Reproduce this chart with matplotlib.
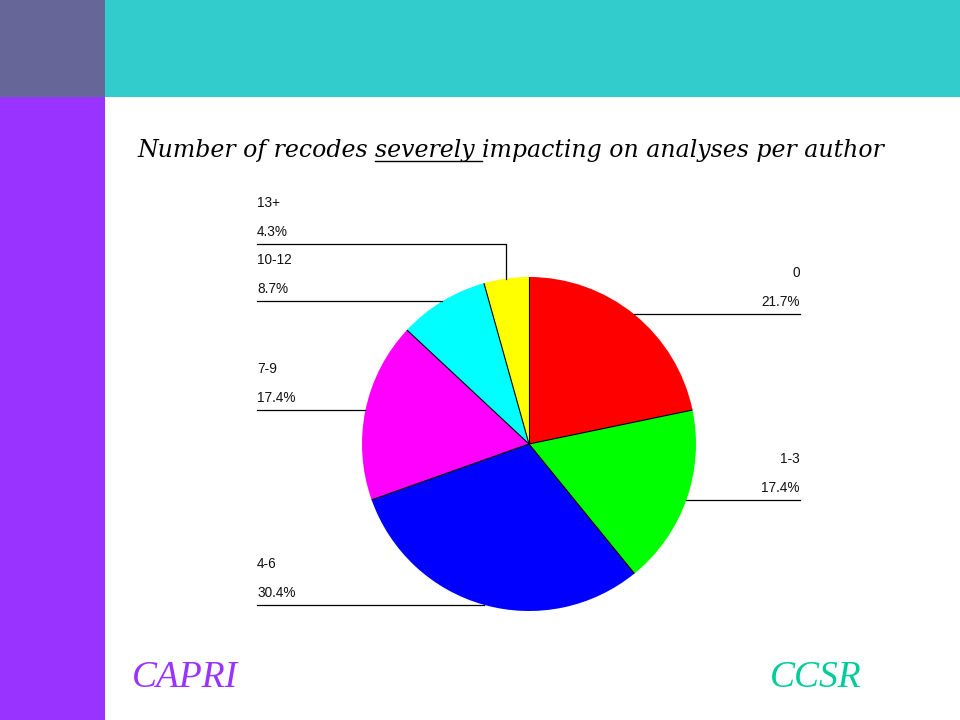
import numpy as np
import matplotlib
matplotlib.use('Agg')
import matplotlib.pyplot as plt
from matplotlib.patches import Rectangle

# ================= data =================
CATEGORIES = ['0', '1-3', '4-6', '7-9', '10-12', '13+']
COUNTS = [5, 4, 7, 4, 2, 1]   # authors per group (n = 23)
COLORS = ['#FF0000', '#00FF00', '#0000FF', '#FF00FF', '#00FFFF', '#FFFF00']

TITLE_PRE = 'Number of recodes '
TITLE_UL = 'severely '
TITLE_POST = 'impacting on analyses per author'

# ================= layout (pixels, y measured from top) =================
W, H = 960, 720
CX, CY, R = 529, 444, 167
LEFT_X, RIGHT_X = 257, 800
LABEL_FONT = ['Liberation Sans', 'DejaVu Sans']


def Y(py):
    return H - py


fig = plt.figure(figsize=(W / 100, H / 100), dpi=100)
ax = fig.add_axes([0, 0, 1, 1])
ax.set_xlim(0, W)
ax.set_ylim(0, H)
ax.set_aspect('equal')
ax.axis('off')

# slide frame
ax.add_patch(Rectangle((0, Y(97)), 105, 97, color='#666699', lw=0))
ax.add_patch(Rectangle((105, Y(97)), W - 105, 97, color='#33CCCC', lw=0))
ax.add_patch(Rectangle((0, 0), 105, H - 97, color='#9933FF', lw=0))

# pie
wedges, _ = ax.pie(COUNTS, colors=COLORS, startangle=90, counterclock=False,
                   center=(CX, Y(CY)), radius=R, frame=True,
                   wedgeprops=dict(edgecolor='none', linewidth=0))
ax.set_xlim(0, W)
ax.set_ylim(0, H)
ax.axis('off')

# radial separators
for w in wedges:
    t = np.deg2rad(w.theta1)
    ax.plot([CX, CX + R * np.cos(t)], [Y(CY), Y(CY) + R * np.sin(t)],
            color='black', lw=0.8, solid_capstyle='butt')

# labels with leader lines
total = sum(COUNTS)
for w, cat, n in zip(wedges, CATEGORIES, COUNTS):
    mid = np.deg2rad((w.theta1 + w.theta2) / 2)
    ex = CX + R * np.cos(mid)
    ey = Y(CY) + R * np.sin(mid)
    pct = f'{100 * n / total:.1f}%'
    if cat == '13+':
        ly = Y(244)
        ax.plot([LEFT_X, ex, ex], [ly, ly, ey], color='black', lw=0.9)
    else:
        ly = ey
        if ex < CX:
            ax.plot([LEFT_X, ex], [ly, ly], color='black', lw=0.9)
        else:
            ax.plot([ex, RIGHT_X], [ly, ly], color='black', lw=0.9)
    if ex < CX:
        tx, ha = LEFT_X, 'left'
    else:
        tx, ha = RIGHT_X, 'right'
    ax.text(tx, ly + 41, cat, ha=ha, va='center', fontsize=9.8,
            family=LABEL_FONT, color='#111111')
    ax.text(tx, ly + 12, pct, ha=ha, va='center', fontsize=9.8,
            family=LABEL_FONT, color='#111111')

# title with underlined word
fig.canvas.draw()
renderer = fig.canvas.get_renderer()
tfont = dict(family='DejaVu Serif', style='italic', fontsize=17)
ty = Y(157)
x0 = 137


def text_width(s):
    t = ax.text(0, 0, s, **tfont)
    bb = t.get_window_extent(renderer)
    t.remove()
    return bb.width


w_pre = text_width(TITLE_PRE + 'x') - text_width('x')
w_ul = text_width(TITLE_UL + 'x') - text_width('x')
ax.text(x0, ty, TITLE_PRE, ha='left', va='baseline', **tfont)
ax.text(x0 + w_pre, ty, TITLE_UL, ha='left', va='baseline', **tfont)
ax.text(x0 + w_pre + w_ul, ty, TITLE_POST, ha='left', va='baseline', **tfont)
ax.plot([x0 + w_pre, x0 + w_pre + w_ul], [ty - 4, ty - 4], color='black', lw=1)

# footer
ax.text(132, Y(678), 'CAPRI', ha='left', va='center', color='#9933FF',
        family='Liberation Serif', style='italic', fontsize=27)
ax.text(862, Y(678), 'CCSR', ha='right', va='center', color='#00CC99',
        family='Liberation Serif', style='italic', fontsize=27)

fig.savefig('out.png', dpi=100)
